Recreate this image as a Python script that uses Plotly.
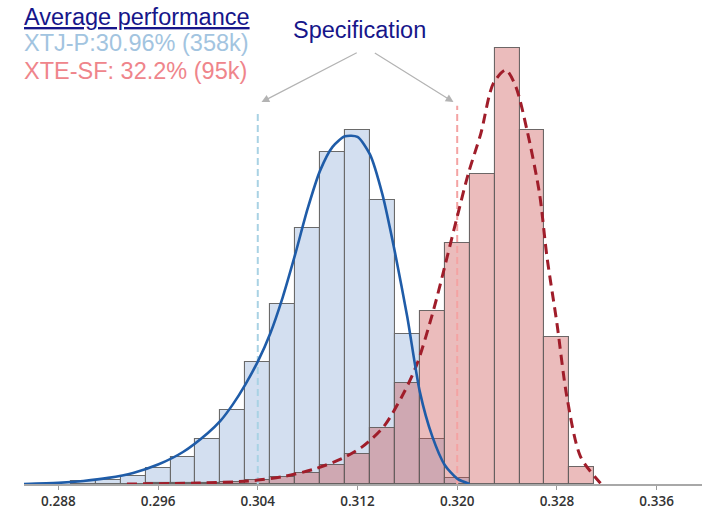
import plotly.graph_objects as go

# Histogram bins (centre of each 0.002-wide bin) and share of samples per bin, %
bin_width = 0.002
xtj_bins = [0.290, 0.292, 0.294, 0.296, 0.298, 0.300, 0.302, 0.304, 0.306,
            0.308, 0.310, 0.312, 0.314, 0.316, 0.318, 0.320]
xtj_share = [0.14, 0.23, 0.44, 0.84, 1.42, 2.34, 3.91, 6.39, 9.46,
             13.42, 17.41, 18.57, 14.91, 7.85, 2.35, 0.34]

xte_bins = [0.296, 0.298, 0.300, 0.302, 0.304, 0.306, 0.308, 0.310, 0.312,
            0.314, 0.316, 0.318, 0.320, 0.322, 0.324, 0.326, 0.328, 0.330]
xte_share = [0.03, 0.04, 0.07, 0.10, 0.21, 0.38, 0.59, 1.00, 1.56,
             2.92, 5.29, 9.10, 12.64, 16.27, 22.87, 18.58, 7.73, 0.88]

# Fitted distribution curves
xtj_fit_x = [0.2851, 0.2880, 0.2900, 0.2920, 0.2940, 0.2960, 0.2980, 0.3000,
             0.3010, 0.3020, 0.3030, 0.3040, 0.3050, 0.3060, 0.3070, 0.3080,
             0.3090, 0.3100, 0.3110, 0.3120, 0.3130, 0.3140, 0.3150,
             0.3160, 0.3170, 0.3180, 0.3190, 0.3200, 0.3210]
xtj_fit_y = [0.0, 0.06, 0.16, 0.32, 0.58, 1.02, 1.68, 2.68,
             3.31, 4.18, 5.22, 6.42, 7.90, 9.80, 12.05, 14.45,
             16.45, 17.70, 18.25, 18.22, 17.30, 15.20, 12.18,
             8.75, 4.85, 2.50, 1.00, 0.28, 0.0]

xte_fit_x = [0.2935, 0.2993, 0.3033, 0.3060, 0.3087, 0.3108, 0.3124, 0.3141,
             0.3157, 0.3168, 0.3181, 0.3192, 0.3200, 0.3209, 0.3219, 0.3229,
             0.3239, 0.3247, 0.3256, 0.3266, 0.3272, 0.3280, 0.3288, 0.3299,
             0.3315]
xte_fit_y = [0.0, 0.05, 0.16, 0.38, 0.82, 1.35, 1.96, 3.01,
             4.76, 6.34, 9.13, 11.93, 14.03, 16.31, 18.41, 21.03,
             21.73, 20.86, 18.58, 15.26, 11.93, 8.44, 4.58, 1.43,
             0.04]

# Specification limits and the height of their marker lines
spec_limits = [0.304, 0.320]
spec_line_top = [19.55, 19.85]
spec_arrow_y = 20.05
spec_arrow_start = [0.31206, 0.31327]
spec_arrow_start_y = 22.68

tick_vals = [0.288, 0.296, 0.304, 0.312, 0.320, 0.328, 0.336]
tick_text = ["0.288", "0.296", "0.304", "0.312", "0.320", "0.328", "0.336"]

legend_lines = ["<u>Average performance</u>",
                "XTJ-P:30.96% (358k)",
                "XTE-SF: 32.2% (95k)"]
legend_colors = ["#16168a", "#a2c4e0", "#ef858b"]
spec_title = "Specification"

# Figure geometry (pixels)
W, H = 719, 527
ML, MR, MT, MB = 24, 17, 0, 43
PW, PH = W - ML - MR, H - MT - MB


def paper_x(px):
    return (px - ML) / PW


def paper_y(py):
    return (MT + PH - py) / PH


fig = go.Figure()

fig.add_trace(go.Bar(
    x=xtj_bins, y=xtj_share, width=bin_width,
    marker=dict(color="#d3dff0", line=dict(color="#6a6a6a", width=1.1)),
    name="XTJ-P",
))
fig.add_trace(go.Bar(
    x=xte_bins, y=xte_share, width=bin_width,
    marker=dict(color="rgba(201,74,74,0.37)",
                line=dict(color="rgba(100,95,95,0.95)", width=1.1)),
    name="XTE-SF",
))

# Spec limit markers
spec_colors = ["#a9d2e4", "#f4a3a3"]
for lim, top, col in zip(spec_limits, spec_line_top, spec_colors):
    fig.add_trace(go.Scatter(
        x=[lim, lim], y=[0, top], mode="lines",
        line=dict(color=col, width=2, dash="7px,4px"),
        hoverinfo="skip",
    ))

fig.add_trace(go.Scatter(
    x=xte_fit_x, y=xte_fit_y, mode="lines",
    line=dict(color="#a01d2a", width=3, dash="10px,6px", shape="spline",
              smoothing=0.8),
    hoverinfo="skip",
))
fig.add_trace(go.Scatter(
    x=xtj_fit_x, y=xtj_fit_y, mode="lines",
    line=dict(color="#1f5ca8", width=2.6, shape="spline", smoothing=0.7),
    hoverinfo="skip",
))

annotations = []
legend_y = [17.2, 43.2, 71.2]
for txt, col, py in zip(legend_lines, legend_colors, legend_y):
    annotations.append(dict(
        text=txt, xref="paper", yref="paper",
        x=paper_x(22), y=paper_y(py), xanchor="left", yanchor="middle",
        showarrow=False,
        font=dict(family="Liberation Sans, Arial", size=23.5, color=col),
    ))

annotations.append(dict(
    text=spec_title, xref="paper", yref="paper",
    x=paper_x(359), y=paper_y(30), xanchor="center", yanchor="middle",
    showarrow=False,
    font=dict(family="Liberation Sans, Arial", size=23.5, color="#16168a"),
))

# Arrows from the title down to each limit line
arrow_tips = [spec_limits[0] + 0.0003, spec_limits[1] - 0.0003]
for tip, tail in zip(arrow_tips, spec_arrow_start):
    annotations.append(dict(
        x=tip, y=spec_arrow_y, xref="x", yref="y",
        ax=tail, ay=spec_arrow_start_y, axref="x", ayref="y",
        text="", showarrow=True,
        arrowhead=2, arrowsize=1.3, arrowwidth=1.2, arrowcolor="#b3b3b3",
    ))

fig.update_layout(
    width=W, height=H,
    margin=dict(l=ML, r=MR, t=MT, b=MB, pad=0),
    paper_bgcolor="white", plot_bgcolor="white",
    barmode="overlay", bargap=0,
    showlegend=False,
    annotations=annotations,
    xaxis=dict(
        range=[0.285244, 0.339641],
        tickmode="array", tickvals=tick_vals, ticktext=tick_text,
        ticks="outside", ticklen=4, tickwidth=1, tickcolor="#9a9a9a",
        showline=True, linecolor="#a8a8a8", linewidth=2,
        showgrid=False, zeroline=False,
        tickfont=dict(family="Open Sans", size=13.5, color="#333333",
                      weight=600),
    ),
    yaxis=dict(range=[0, 25.407], visible=False, showgrid=False,
               zeroline=False),
)

fig.write_html("out.html", config={"displayModeBar": False})
